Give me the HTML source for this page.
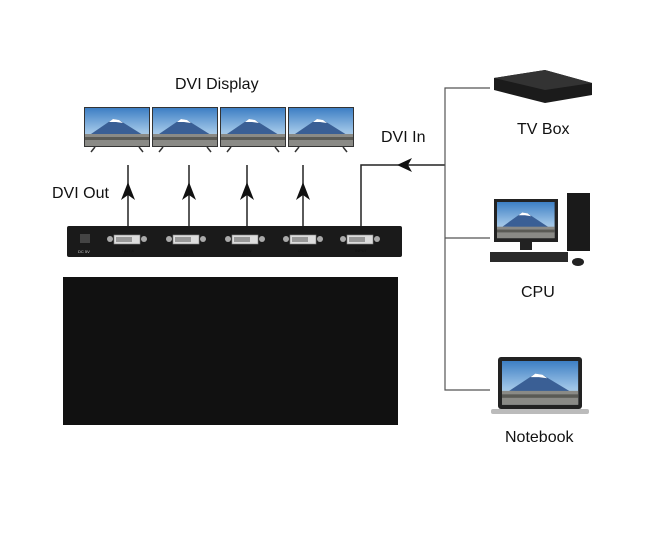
<!DOCTYPE html>
<html><head><style>body{margin:0;background:#fff}svg{display:block}text{font-family:"Liberation Sans",sans-serif;fill:#111}</style></head><body>
<svg width="655" height="550" viewBox="0 0 655 550">
<defs>
<linearGradient id="sky" x1="0" y1="0" x2="0" y2="1"><stop offset="0" stop-color="#3d7fc4"/><stop offset="0.6" stop-color="#9cc3e6"/><stop offset="1" stop-color="#c9d7e2"/></linearGradient>
<g id="scr"><rect x="0" y="0" width="64" height="38" fill="url(#sky)"/><polygon points="6,26 28,11 34,12 58,27" fill="#3a5f95"/><polygon points="24,14 28,11 34,12 38,15 31,14" fill="#fff"/><rect x="0" y="26" width="64" height="12" fill="#8a8a86"/><rect x="0" y="29" width="64" height="3" fill="#5a5a55"/></g>
<g id="mon"><rect x="-1" y="-1" width="66" height="40" fill="#333"/><use href="#scr"/><line x1="10" y1="39" x2="6" y2="44" stroke="#333" stroke-width="1.5"/><line x1="54" y1="39" x2="58" y2="44" stroke="#333" stroke-width="1.5"/></g>
<g id="port"><circle cx="-4" cy="4" r="3" fill="#aaa"/><rect x="0" y="0" width="26" height="9" fill="#ddd" stroke="#888" stroke-width="0.6"/><rect x="2" y="2" width="16" height="5" fill="#999"/><circle cx="30" cy="4" r="3" fill="#aaa"/></g>
</defs>
<text x="175" y="89" font-size="16">DVI Display</text>
<use href="#mon" x="85" y="108"/><use href="#mon" x="153" y="108"/><use href="#mon" x="221" y="108"/><use href="#mon" x="289" y="108"/>
<text x="52" y="198" font-size="16">DVI Out</text>
<g stroke="#222" stroke-width="1.5" fill="none">
<line x1="128" y1="165" x2="128" y2="226"/><line x1="189" y1="165" x2="189" y2="226"/><line x1="247" y1="165" x2="247" y2="226"/><line x1="303" y1="165" x2="303" y2="226"/>
<polyline points="445,165 361,165 361,226"/>
</g>
<g fill="#111">
<polygon points="128,182 121,200 128,195 135,200"/><polygon points="189,182 182,200 189,195 196,200"/><polygon points="247,182 240,200 247,195 254,200"/><polygon points="303,182 296,200 303,195 310,200"/>
<polygon points="397,165 412,158 408,165 412,172"/>
</g>
<text x="381" y="142" font-size="16">DVI In</text>
<g stroke="#555" stroke-width="1.2" fill="none"><polyline points="490,88 445,88 445,390 490,390"/><line x1="445" y1="238" x2="490" y2="238"/></g>
<rect x="67" y="226" width="335" height="31" rx="2" fill="#1a1a1a"/>
<rect x="80" y="234" width="10" height="9" fill="#444"/><text x="78" y="253" font-size="4" style="fill:#ccc">DC 5V</text>
<use href="#port" x="114" y="235"/><use href="#port" x="173" y="235"/><use href="#port" x="232" y="235"/><use href="#port" x="290" y="235"/><use href="#port" x="347" y="235"/>
<g font-size="4" style="fill:#ccc"><text x="122" y="252">OUT 4</text><text x="181" y="252">OUT 3</text><text x="240" y="252">OUT 2</text><text x="298" y="252">OUT 1</text><text x="355" y="252">INPUT</text></g>
<rect x="63" y="277" width="335" height="148" fill="#111"/>
<polygon points="494,78 545,70 592,83 592,95 545,103 494,90" fill="#1b1b1b"/><polygon points="494,78 545,70 592,83 545,90" fill="#333"/>
<text x="517" y="134" font-size="16">TV Box</text>
<rect x="494" y="199" width="64" height="43" fill="#222"/><use href="#scr" x="497" y="202" transform="translate(497,202) scale(0.9,0.95) translate(-497,-202)"/>
<rect x="520" y="242" width="12" height="8" fill="#222"/><rect x="490" y="252" width="78" height="10" fill="#2a2a2a"/>
<rect x="567" y="193" width="23" height="58" fill="#1a1a1a"/><ellipse cx="578" cy="262" rx="6" ry="4" fill="#222"/>
<text x="521" y="297" font-size="16">CPU</text>
<rect x="498" y="357" width="84" height="52" rx="3" fill="#222"/><use href="#scr" transform="translate(502,361) scale(1.19,1.15)"/>
<rect x="491" y="409" width="98" height="5" rx="2" fill="#bbb"/>
<text x="505" y="442" font-size="16">Notebook</text>
</svg>
</body></html>
